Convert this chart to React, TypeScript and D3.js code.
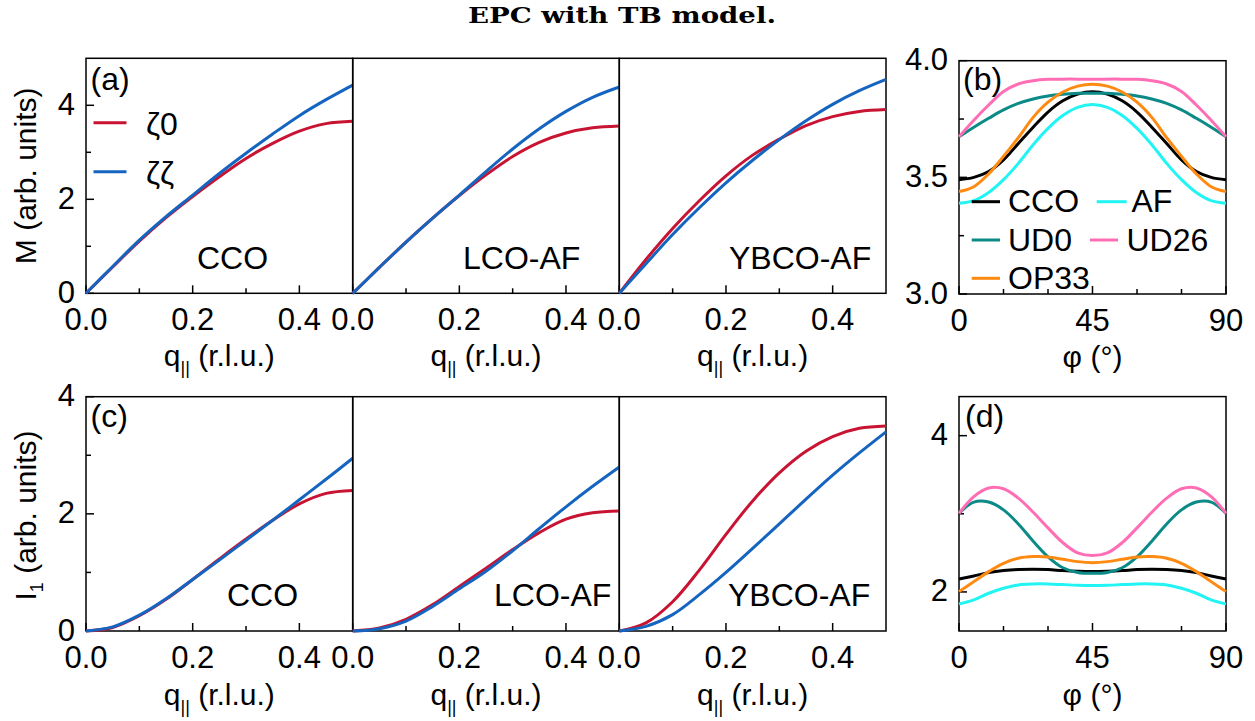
import React from 'react';
import * as d3 from 'd3';

// ---------- data ----------
const qVals = [0, 0.05, 0.1, 0.15, 0.2, 0.25, 0.3, 0.35, 0.4, 0.45, 0.5];
const phiVals = [0, 5, 10, 15, 20, 25, 30, 35, 40, 45, 50, 55, 60, 65, 70, 75, 80, 85, 90];

// (a) M vs q
const M_CCO_z0 = [0, 0.56, 1.11, 1.61, 2.06, 2.48, 2.87, 3.19, 3.45, 3.61, 3.66];
const M_CCO_zz = [0, 0.57, 1.13, 1.63, 2.09, 2.55, 2.98, 3.39, 3.78, 4.12, 4.43];
const M_LCO_z0 = [0, 0.55, 1.09, 1.6, 2.08, 2.52, 2.91, 3.21, 3.41, 3.52, 3.56];
const M_LCO_zz = [0, 0.55, 1.09, 1.6, 2.09, 2.59, 3.07, 3.5, 3.87, 4.17, 4.39];
const M_YBCO_z0 = [0, 0.72, 1.38, 1.97, 2.5, 2.94, 3.28, 3.57, 3.76, 3.87, 3.91];
const M_YBCO_zz = [0, 0.63, 1.25, 1.82, 2.35, 2.83, 3.27, 3.67, 4.02, 4.31, 4.55];

// (c) I1 vs q
const I_CCO_z0 = [0, 0.06, 0.26, 0.54, 0.88, 1.23, 1.57, 1.89, 2.17, 2.35, 2.4];
const I_CCO_zz = [0, 0.07, 0.27, 0.55, 0.88, 1.21, 1.55, 1.89, 2.24, 2.59, 2.95];
const I_LCO_z0 = [0, 0.05, 0.2, 0.45, 0.76, 1.07, 1.39, 1.68, 1.91, 2.02, 2.05];
const I_LCO_zz = [0, 0.04, 0.17, 0.42, 0.72, 1.02, 1.37, 1.75, 2.12, 2.47, 2.8];
const I_YBCO_z0 = [0, 0.14, 0.5, 1.04, 1.65, 2.22, 2.7, 3.07, 3.32, 3.46, 3.5];
const I_YBCO_zz = [0, 0.08, 0.28, 0.62, 1.0, 1.41, 1.83, 2.25, 2.66, 3.04, 3.4];

// (b) M vs phi
const Mb_CCO = [3.49, 3.5, 3.525, 3.575, 3.645, 3.715, 3.78, 3.828, 3.857, 3.867, 3.857, 3.828, 3.78, 3.715, 3.645, 3.575, 3.525, 3.5, 3.49];
const Mb_AF = [3.389, 3.4, 3.435, 3.49, 3.56, 3.64, 3.71, 3.765, 3.8, 3.812, 3.8, 3.765, 3.71, 3.64, 3.56, 3.49, 3.435, 3.4, 3.389];
const Mb_UD0 = [3.674, 3.715, 3.753, 3.789, 3.817, 3.836, 3.849, 3.856, 3.86, 3.861, 3.86, 3.856, 3.849, 3.836, 3.817, 3.789, 3.753, 3.715, 3.674];
const Mb_UD26 = [3.674, 3.745, 3.81, 3.868, 3.9, 3.914, 3.92, 3.921, 3.921, 3.921, 3.921, 3.921, 3.92, 3.914, 3.9, 3.868, 3.81, 3.745, 3.674];
const Mb_OP33 = [3.439, 3.46, 3.515, 3.59, 3.67, 3.757, 3.822, 3.866, 3.891, 3.899, 3.891, 3.866, 3.822, 3.757, 3.67, 3.59, 3.515, 3.46, 3.439];

// (d) I1 vs phi
const Id_CCO = [2.166, 2.205, 2.247, 2.273, 2.286, 2.29, 2.286, 2.273, 2.264, 2.26, 2.264, 2.273, 2.286, 2.29, 2.286, 2.273, 2.247, 2.205, 2.166];
const Id_AF = [1.846, 1.898, 1.983, 2.047, 2.09, 2.102, 2.102, 2.094, 2.085, 2.081, 2.085, 2.094, 2.102, 2.102, 2.09, 2.047, 1.983, 1.898, 1.846];
const Id_UD0 = [3.006, 3.15, 3.15, 3.05, 2.87, 2.65, 2.45, 2.31, 2.25, 2.239, 2.25, 2.31, 2.45, 2.65, 2.87, 3.05, 3.15, 3.15, 3.006];
const Id_UD26 = [3.006, 3.22, 3.33, 3.32, 3.2, 3.02, 2.82, 2.63, 2.5, 2.465, 2.5, 2.63, 2.82, 3.02, 3.2, 3.32, 3.33, 3.22, 3.006];
const Id_OP33 = [2.004, 2.132, 2.26, 2.367, 2.431, 2.452, 2.448, 2.418, 2.388, 2.375, 2.388, 2.418, 2.448, 2.452, 2.431, 2.367, 2.26, 2.132, 2.004];

const materials = ['CCO', 'LCO-AF', 'YBCO-AF'];
const seriesNames = ['\u03b60', '\u03b6\u03b6'];
const phiNames = ['CCO', 'AF', 'UD0', 'UD26', 'OP33'];

const qMajor = [0, 0.2, 0.4];
const qMinor = [0.1, 0.3];
const phiMajor = [0, 45, 90];
const phiMinor = [15, 30, 60, 75];
const yMajorA = [0, 2, 4];
const yMinorA = [1, 3];
const yMajorC = [0, 2, 4];
const yMinorC = [1, 3];
const yMajorB = [3.0, 3.5, 4.0];
const yMinorB = [3.25, 3.75];
const yMajorD = [2, 4];
const yMinorD = [3];

// ---------- styles ----------
const FONT = "'Liberation Sans', Arial, Helvetica, sans-serif";
const RED = '#C81432';
const BLUE = '#1565C0';
const PHI_COLORS = ['#000000', '#22F4F4', '#0B8A87', '#FF6EB4', '#FF8A12'];
const FS_TICK = 31;
const FS_LAB = 30;
const FS_ANN = 32;
const LW = 3;
const MAJ = 8;
const MIN = 5;

const lineGen = (xs: number[], xS: any, yS: any) =>
  d3
    .line<number>()
    .x((_, i) => xS(xs[i]))
    .y((d) => yS(d))
    .curve(d3.curveCatmullRom.alpha(0.5));

function Frame(props: any) {
  const { xS, yS, x0, x1, y0, y1, xMaj, xMin, yMaj, yMin, xFmt, yFmt, showY } = props;
  return (
    <g>
      <rect x={x0} y={y0} width={x1 - x0} height={y1 - y0} fill="none" stroke="#000" strokeWidth={1.5} />
      {xMaj.map((v: number) => (
        <g key={'xM' + v}>
          <line x1={xS(v)} x2={xS(v)} y1={y1} y2={y1 - MAJ} stroke="#000" strokeWidth={1.5} />
          <text x={xS(v)} y={y1 + 37} textAnchor="middle" fontSize={FS_TICK} fontFamily={FONT}>
            {xFmt(v)}
          </text>
        </g>
      ))}
      {xMin.map((v: number) => (
        <line key={'xm' + v} x1={xS(v)} x2={xS(v)} y1={y1} y2={y1 - MIN} stroke="#000" strokeWidth={1.5} />
      ))}
      {showY &&
        yMaj.map((v: number) => (
          <g key={'yM' + v}>
            <line x1={x0} x2={x0 + MAJ} y1={yS(v)} y2={yS(v)} stroke="#000" strokeWidth={1.5} />
            <text x={x0 - 11} y={yS(v) + 9.5} textAnchor="end" fontSize={FS_TICK} fontFamily={FONT}>
              {yFmt(v)}
            </text>
          </g>
        ))}
      {showY &&
        yMin.map((v: number) => (
          <line key={'ym' + v} x1={x0} x2={x0 + MIN} y1={yS(v)} y2={yS(v)} stroke="#000" strokeWidth={1.5} />
        ))}
    </g>
  );
}

export default function App() {
  const edges = [86, 352.7, 619.3, 886];
  const topY = [58.3, 293.3];
  const botY = [396.7, 631];
  const yA = d3.scaleLinear().domain([0, 5]).range([topY[1], topY[0]]);
  const yC = d3.scaleLinear().domain([0, 4]).range([botY[1], botY[0]]);
  const rx = [959, 1226];
  const bY = [60.7, 294];
  const dY = [396.6, 631];
  const xPhi = d3.scaleLinear().domain([0, 90]).range(rx);
  const yB = d3.scaleLinear().domain([3, 4]).range([bY[1], bY[0]]);
  const yD = d3.scaleLinear().domain([1.5, 4.5]).range([dY[1], dY[0]]);

  const Mdata = [
    [M_CCO_z0, M_CCO_zz],
    [M_LCO_z0, M_LCO_zz],
    [M_YBCO_z0, M_YBCO_zz],
  ];
  const Idata = [
    [I_CCO_z0, I_CCO_zz],
    [I_LCO_z0, I_LCO_zz],
    [I_YBCO_z0, I_YBCO_zz],
  ];
  const topLabelX = [197, 463, 729];
  const botLabelX = [227, 494, 728];
  const fmtQ = d3.format('.1f');
  const fmtInt = d3.format('d');
  const fmtB = d3.format('.1f');

  const Mb = [Mb_CCO, Mb_AF, Mb_UD0, Mb_UD26, Mb_OP33];
  const Id = [Id_CCO, Id_AF, Id_UD0, Id_UD26, Id_OP33];

  const qLabel = (x: number, y: number) => (
    <text x={x} y={y} textAnchor="middle" fontSize={FS_LAB} fontFamily={FONT}>
      q<tspan dy={8} fontSize={18}>||</tspan>
      <tspan dy={-8}> (r.l.u.)</tspan>
    </text>
  );

  const legB = [
    { x1: 971.7, x2: 1000, tx: 1008, y: 201.7 },
    { x1: 1096.7, x2: 1126.7, tx: 1131.5, y: 201.7 },
    { x1: 971.7, x2: 1000, tx: 1008, y: 240 },
    { x1: 1090, x2: 1118, tx: 1126.5, y: 240 },
    { x1: 971.7, x2: 1000, tx: 1008, y: 278.3 },
  ];

  return (
    <svg width={1255} height={721} style={{ position: 'absolute', left: 0, top: 0, background: '#fff' }}>
      <rect x={0} y={0} width={1255} height={721} fill="#fff" />
      <text
        x={622}
        y={22.5}
        textAnchor="middle"
        fontFamily="'DejaVu Serif', 'Liberation Serif', serif"
        fontWeight="bold"
        fontSize={23}
        textLength={308}
        lengthAdjust="spacingAndGlyphs"
      >
        EPC with TB model.
      </text>

      {/* top row (a) */}
      {materials.map((m, i) => {
        const xS = d3.scaleLinear().domain([0, 0.5]).range([edges[i], edges[i + 1]]);
        return (
          <g key={'a' + m}>
            <Frame xS={xS} yS={yA} x0={edges[i]} x1={edges[i + 1]} y0={topY[0]} y1={topY[1]} xMaj={qMajor} xMin={qMinor}
              yMaj={yMajorA} yMin={yMinorA} xFmt={fmtQ} yFmt={fmtInt} showY={i === 0} />
            <path d={lineGen(qVals, xS, yA)(Mdata[i][0]) || ''} fill="none" stroke={RED} strokeWidth={LW} />
            <path d={lineGen(qVals, xS, yA)(Mdata[i][1]) || ''} fill="none" stroke={BLUE} strokeWidth={LW} />
            <text x={topLabelX[i]} y={269} fontSize={FS_ANN} fontFamily={FONT}>{m}</text>
            {qLabel((edges[i] + edges[i + 1]) / 2, 366)}
          </g>
        );
      })}
      <text x={90.5} y={90} fontSize={FS_ANN} fontFamily={FONT}>(a)</text>
      <line x1={93.5} x2={126.5} y1={122.7} y2={122.7} stroke={RED} strokeWidth={LW} />
      <text x={146} y={135} fontSize={FS_ANN} fontFamily={FONT}>{seriesNames[0]}</text>
      <line x1={93.5} x2={126.5} y1={171.7} y2={171.7} stroke={BLUE} strokeWidth={LW} />
      <text x={146} y={184} fontSize={FS_ANN} fontFamily={FONT}>{seriesNames[1]}</text>
      <text transform={`translate(36,${(topY[0] + topY[1]) / 2}) rotate(-90)`} textAnchor="middle" fontSize={FS_LAB} fontFamily={FONT}>
        M (arb. units)
      </text>

      {/* bottom row (c) */}
      {materials.map((m, i) => {
        const xS = d3.scaleLinear().domain([0, 0.5]).range([edges[i], edges[i + 1]]);
        return (
          <g key={'c' + m}>
            <Frame xS={xS} yS={yC} x0={edges[i]} x1={edges[i + 1]} y0={botY[0]} y1={botY[1]} xMaj={qMajor} xMin={qMinor}
              yMaj={yMajorC} yMin={yMinorC} xFmt={fmtQ} yFmt={fmtInt} showY={i === 0} />
            <path d={lineGen(qVals, xS, yC)(Idata[i][0]) || ''} fill="none" stroke={RED} strokeWidth={LW} />
            <path d={lineGen(qVals, xS, yC)(Idata[i][1]) || ''} fill="none" stroke={BLUE} strokeWidth={LW} />
            <text x={botLabelX[i]} y={606} fontSize={FS_ANN} fontFamily={FONT}>{m}</text>
            {qLabel((edges[i] + edges[i + 1]) / 2, 705)}
          </g>
        );
      })}
      <text x={90.5} y={427} fontSize={FS_ANN} fontFamily={FONT}>(c)</text>
      <text transform={`translate(36,515.5) rotate(-90)`} textAnchor="middle" fontSize={FS_LAB} fontFamily={FONT}>
        I<tspan dy={7} fontSize={18}>1</tspan>
        <tspan dy={-7}> (arb. units)</tspan>
      </text>

      {/* (b) */}
      <Frame xS={xPhi} yS={yB} x0={rx[0]} x1={rx[1]} y0={bY[0]} y1={bY[1]} xMaj={phiMajor} xMin={phiMinor}
        yMaj={yMajorB} yMin={yMinorB} xFmt={fmtInt} yFmt={fmtB} showY={true} />
      {Mb.map((s, i) => (
        <path key={'b' + i} d={lineGen(phiVals, xPhi, yB)(s) || ''} fill="none" stroke={PHI_COLORS[i]} strokeWidth={LW} />
      ))}
      <text x={963} y={89.5} fontSize={FS_ANN} fontFamily={FONT}>(b)</text>
      {legB.map((l, i) => (
        <g key={'lb' + i}>
          <line x1={l.x1} x2={l.x2} y1={l.y} y2={l.y} stroke={PHI_COLORS[i]} strokeWidth={LW} />
          <text x={l.tx} y={l.y + 10.5} fontSize={FS_ANN} fontFamily={FONT}>{phiNames[i]}</text>
        </g>
      ))}
      <text x={(rx[0] + rx[1]) / 2} y={367} textAnchor="middle" fontSize={FS_LAB} fontFamily={FONT}>φ (°)</text>

      {/* (d) */}
      <Frame xS={xPhi} yS={yD} x0={rx[0]} x1={rx[1]} y0={dY[0]} y1={dY[1]} xMaj={phiMajor} xMin={phiMinor}
        yMaj={yMajorD} yMin={yMinorD} xFmt={fmtInt} yFmt={fmtInt} showY={true} />
      {Id.map((s, i) => (
        <path key={'d' + i} d={lineGen(phiVals, xPhi, yD)(s) || ''} fill="none" stroke={PHI_COLORS[i]} strokeWidth={LW} />
      ))}
      <text x={965} y={427} fontSize={FS_ANN} fontFamily={FONT}>(d)</text>
      <text x={(rx[0] + rx[1]) / 2} y={705} textAnchor="middle" fontSize={FS_LAB} fontFamily={FONT}>φ (°)</text>
    </svg>
  );
}
